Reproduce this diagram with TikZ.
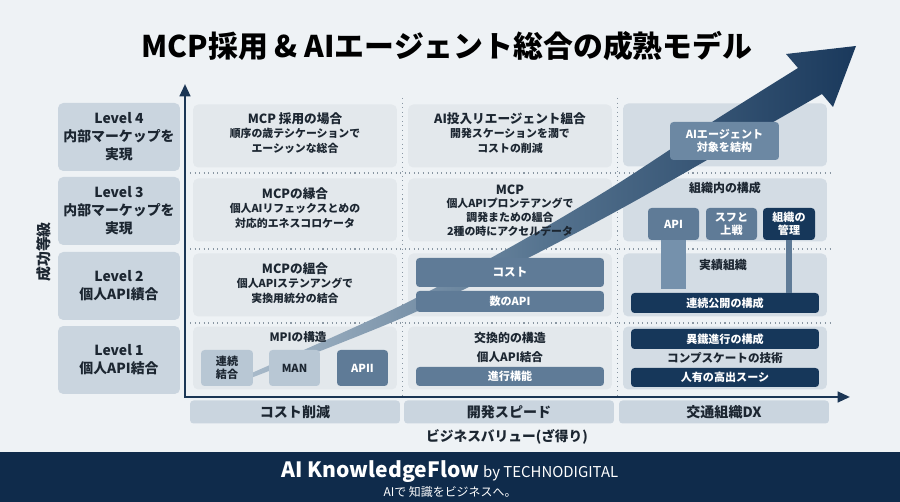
\documentclass[tikz,border=0pt]{standalone}
\usepackage{fontspec}
\setmainfont{Noto Sans CJK JP}
\usepackage{xcolor}
\usepackage{tikz}
\usetikzlibrary{arrows.meta}
\definecolor{bgc}{HTML}{EEF2F5}
\definecolor{lvc}{HTML}{CAD5DF}
\definecolor{cellc}{HTML}{E3E8EC}
\definecolor{cellcc}{HTML}{D3DCE4}
\definecolor{midc}{HTML}{5F7B97}
\definecolor{stemc}{HTML}{7591AC}
\definecolor{lightc}{HTML}{B8C7D4}
\definecolor{aic}{HTML}{6C88A3}
\definecolor{navyc}{HTML}{16375A}
\definecolor{axisc}{HTML}{1B3655}
\definecolor{footc}{HTML}{0F2B4B}
\definecolor{txtc}{HTML}{1C2631}
\definecolor{sepc}{HTML}{8A97A3}
\definecolor{bandl}{HTML}{ADBECD}
\definecolor{bandm}{HTML}{55738F}
\definecolor{bandr}{HTML}{1A395C}
\newcommand{\cellhead}[1]{{\fontsize{7.2pt}{8.4pt}\selectfont #1}}

\begin{document}
\begin{tikzpicture}[x=0.02cm,y=-0.02cm,
  lvbox/.style={fill=lvc,rounded corners=3pt,minimum width=2.44cm,minimum height=1.36cm,inner sep=0pt,align=center,text=txtc,font=\bfseries\fontsize{7.9pt}{10.2pt}\selectfont},
  cellbox/.style={fill=cellc,rounded corners=3pt,minimum width=4.08cm,minimum height=1.26cm,inner sep=0pt},
  celltext/.style={align=center,text=txtc,font=\bfseries\fontsize{6.2pt}{8.2pt}\selectfont},
  ibox/.style={rounded corners=2pt,inner sep=0pt,align=center,text=white,font=\bfseries\fontsize{6.3pt}{7.6pt}\selectfont},
  catbox/.style={fill=lvc,rounded corners=2pt,minimum width=4.2cm,minimum height=0.46cm,inner sep=0pt,text=txtc,font=\bfseries\fontsize{8pt}{9pt}\selectfont},
  sep/.style={dotted,color=sepc,line width=0.6pt},
  axis/.style={color=axisc,line width=1.4pt,{Triangle[length=7pt,width=6pt]}-{Triangle[length=7pt,width=6pt]}}]
\useasboundingbox (0,0) rectangle (900,502);
\fill[bgc] (0,0) rectangle (900,502);

\node at (447,46) (title)[text=black,font=\bfseries\fontsize{17pt}{20pt}\selectfont]{MCP採用 \& AIエージェント総合の成熟モデル};

\node at (119,137) (lv4)[lvbox]{Level 4\\内部マーケップを\\実現};
\node at (119,211) (lv3)[lvbox]{Level 3\\内部マーケップを\\実現};
\node at (119,286) (lv2)[lvbox]{Level 2\\個人API績合};
\node at (119,360) (lv1)[lvbox]{Level 1\\個人API結合};
\node at (44,252) (ylab)[rotate=90,text=txtc,font=\bfseries\fontsize{8.5pt}{10pt}\selectfont]{成功等級};

\node at (295,136) (c41)[cellbox]{};
\node at (510,136) (c42)[cellbox]{};
\node at (725,135) (c43)[cellbox,fill=cellcc]{};
\node at (295,210) (c31)[cellbox]{};
\node at (510,210) (c32)[cellbox]{};
\node at (725,210) (c33)[cellbox,fill=cellcc]{};
\node at (295,285) (c21)[cellbox]{};
\node at (510,285) (c22)[cellbox]{};
\node at (725,285) (c23)[cellbox,fill=cellcc]{};
\node at (295,358) (c11)[cellbox]{};
\node at (510,358) (c12)[cellbox]{};
\node at (725,358) (c13)[cellbox,fill=cellcc]{};

\draw[sep] (190,173) -- (830,173);
\draw[sep] (190,249) -- (830,249);
\draw[sep] (190,323) -- (830,323);
\draw[sep] (402.5,98) -- (402.5,397);
\draw[sep] (617.5,98) -- (617.5,397);

\path[left color=bandl,right color=bandr,middle color=bandm]
  plot[smooth] coordinates {(244,379) (256,376) (402,318) (524,260) (626,206) (728,148) (822,94)}
  -- (833,107) -- (856,46) -- (786,54) -- (798,68)
  -- plot[smooth] coordinates {(798,68) (712,122) (614,186) (516,244) (398,307) (254,372) (244,375)}
  -- cycle;

\node at (295,133) (t41)[celltext]{\cellhead{MCP 採用の場合}\\順序の歳テシケーションで\\エーシッンな総合};
\node at (510,133) (t42)[celltext]{\cellhead{AI投入リエージェント縕合}\\開発スケーションを濶で\\コストの削減};
\node at (724.5,141) (aiag)[ibox,fill=aic,minimum width=2.18cm,minimum height=0.76cm]{AIエージェント\\対象を結构};

\node at (295,208) (t31)[celltext]{\cellhead{MCPの縁合}\\個人AIリフェックスとめの\\対応的エネスコロケータ};
\node at (510,210.5) (t32)[celltext,font=\bfseries\fontsize{6.2pt}{7.8pt}\selectfont]{\cellhead{MCP}\\個人APIプロンテアングで\\調発まための縕合\\2種の時にアクセルデータ};
\node at (725,188) (t33)[celltext,font=\bfseries\fontsize{6.8pt}{8pt}\selectfont]{組織内の構成};
\node at (673.5,224) (api)[ibox,fill=midc,minimum width=1.02cm,minimum height=0.64cm]{API};
\node at (731.5,224) (sufu)[ibox,fill=midc,minimum width=1.02cm,minimum height=0.64cm]{スフと\\上戦};
\node at (789,224) (kanri)[ibox,fill=navyc,minimum width=1.04cm,minimum height=0.64cm]{組織の\\管理};

\node at (295,283) (t21)[celltext]{\cellhead{MCPの縕合}\\個人APIステンアングで\\実換用統分の結合};
\node at (510,272.5) (cost)[ibox,fill=midc,minimum width=3.76cm,minimum height=0.58cm,font=\bfseries\fontsize{6.6pt}{7.6pt}\selectfont]{コスト};
\node at (510,301.5) (kazu)[ibox,fill=midc,minimum width=3.76cm,minimum height=0.42cm]{数のAPI};
\node at (723,265) (t23)[celltext,font=\bfseries\fontsize{6.8pt}{8pt}\selectfont]{実績組織};
\node at (725,303) (ren)[ibox,fill=navyc,minimum width=3.76cm,minimum height=0.40cm]{連続公開の構成};
\draw[line width=14pt,color=stemc,shorten >=2.3pt] (api.south) -- (api.south |- ren.north);
\draw[line width=3.4pt,color=midc] (kanri.south) -- (kanri.south |- ren.north);

\node at (298,337) (t11)[celltext,font=\bfseries\fontsize{6.6pt}{8pt}\selectfont]{MPIの構造};
\node at (227,368) (renk)[ibox,fill=lightc,text=txtc,minimum width=1.04cm,minimum height=0.72cm]{連続\\結合};
\node at (294.5,368) (man)[ibox,fill=lightc,text=txtc,minimum width=1.02cm,minimum height=0.72cm]{MAN};
\node at (362.5,368) (apii)[ibox,fill=midc,minimum width=1.02cm,minimum height=0.72cm]{APII};
\node at (510,338) (t12)[celltext,font=\bfseries\fontsize{6.8pt}{8pt}\selectfont]{交換的の構造};
\node at (510,357) (t12b)[celltext,font=\bfseries\fontsize{6.6pt}{8pt}\selectfont]{個人API結合};
\node at (510,376.5) (shin)[ibox,fill=midc,minimum width=3.76cm,minimum height=0.38cm]{進行構能};
\node at (725,339) (iten)[ibox,fill=navyc,minimum width=3.76cm,minimum height=0.40cm]{異鐵進行の構成};
\node at (725,358) (t13)[celltext,font=\bfseries\fontsize{6.6pt}{8pt}\selectfont]{コンプスケートの技術};
\node at (725,377.5) (jin)[ibox,fill=navyc,minimum width=3.76cm,minimum height=0.38cm]{人有の高出スーシ};

\coordinate (orig) at (185,397);
\coordinate (ytip) at (185,84);
\coordinate (xtip) at (850,397);
\draw[axis] (ytip) -- (orig) -- (xtip);

\node at (295,412) (cat1)[catbox]{コスト削減};
\node at (509,412) (cat2)[catbox]{開発スピード};
\node at (724,412) (cat3)[catbox]{交通組織DX};
\node at (507,437) (xlab)[text=txtc,font=\bfseries\fontsize{7.8pt}{9pt}\selectfont]{ビジネスバリュー(ざ得り)};

\fill[footc] (0,452) rectangle (900,502);
\node at (450,472) (brand)[text=white]{{\bfseries\fontsize{12pt}{14pt}\selectfont AI KnowledgeFlow} {\fontsize{8.5pt}{10pt}\selectfont by TECHNODIGITAL}};
\node at (450,492) (motto)[text=white,font=\fontsize{6.8pt}{8pt}\selectfont]{AIで 知識をビジネスへ。};
\end{tikzpicture}
\end{document}
